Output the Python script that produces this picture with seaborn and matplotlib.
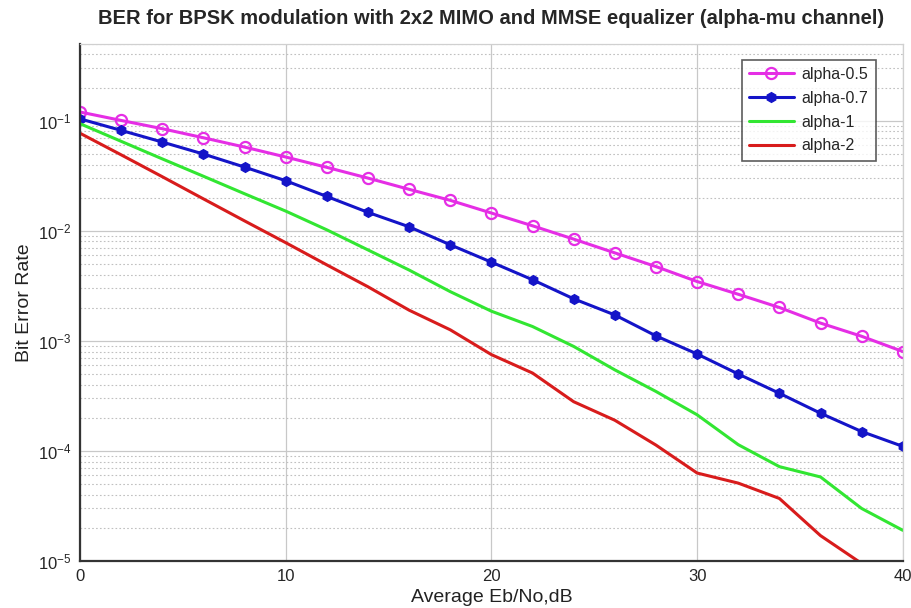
import numpy as np
import pandas as pd
import matplotlib
matplotlib.use("Agg")
import matplotlib.pyplot as plt
import seaborn as sns

# Eb/No points (dB)
snr_db = list(range(0, 42, 2))

# BER
ber_a05 = [0.120, 0.1006, 0.0846, 0.0700, 0.0576, 0.0468, 0.0377, 0.0301, 0.0238, 0.0189, 0.0145,
           0.0111, 0.0084, 0.0063, 0.00473, 0.00346, 0.00265, 0.00201, 0.00145, 0.00110, 0.00080]
ber_a07 = [0.104, 0.0817, 0.0640, 0.0498, 0.0379, 0.0285, 0.0205, 0.0147, 0.01087, 0.00746, 0.00519,
           0.00359, 0.00241, 0.00172, 0.00111, 0.00076, 0.00050, 0.000334, 0.00022, 0.00015, 0.00011]
ber_a1 = [0.094, 0.065, 0.045, 0.0313, 0.0217, 0.0151, 0.0102, 0.0067, 0.0044, 0.0028, 0.00186,
          0.00135, 0.00089, 0.000545, 0.000347, 0.000213, 0.000114, 7.2e-5, 5.8e-5, 3.0e-5, 1.9e-5]
ber_a2 = [0.077, 0.049, 0.031, 0.0195, 0.0123, 0.0078, 0.0049, 0.0031, 0.0019, 0.00126, 0.00075,
          0.00051, 0.00028, 0.00019, 0.000113, 6.3e-5, 5.1e-5, 3.7e-5, 1.7e-5, 9.5e-6, np.nan]

labels = ["alpha-0.5", "alpha-0.7", "alpha-1", "alpha-2"]
series = [ber_a05, ber_a07, ber_a1, ber_a2]
colors = ["#e52ee5", "#1414c8", "#32e632", "#d81c1c"]

sns.set_style("white")
plt.rcParams["font.family"] = ["Liberation Sans", "DejaVu Sans"]

fig, ax = plt.subplots(figsize=(9.11, 6.08), dpi=100)
fig.subplots_adjust(left=0.0878, right=0.991, top=0.928, bottom=0.0773)

styles = [
    dict(marker="o", markersize=8, markerfacecolor="none", markeredgewidth=1.6),
    dict(marker="h", markersize=7, markeredgewidth=1.0),
    dict(marker=None),
    dict(marker=None),
]
for lab, vals, col, st in zip(labels, series, colors, styles):
    df = pd.DataFrame({"snr": snr_db, "ber": vals}).dropna()
    sns.lineplot(data=df, x="snr", y="ber", ax=ax, color=col, linewidth=2.2,
                 label=lab, markeredgecolor=col, **st)

ax.set_yscale("log")
ax.set_xlim(0, 40)
ax.set_ylim(1e-5, 0.5)
ax.set_xticks([0, 10, 20, 30, 40])

ax.grid(True, which="major", color="#c8c8c8", linewidth=0.9, linestyle="-")
ax.grid(True, which="minor", axis="y", color="#c0c0c0", linewidth=0.8, linestyle=(0, (1.5, 2)))
ax.tick_params(which="major", direction="in", length=6, width=1.4, color="#333333",
               labelsize=12, pad=6, top=False, right=False)
ax.tick_params(which="minor", length=0)

for side in ["left", "bottom"]:
    ax.spines[side].set_color("#333333")
    ax.spines[side].set_linewidth(1.6)
for side in ["top", "right"]:
    ax.spines[side].set_color("#d0d0d0")
    ax.spines[side].set_linewidth(0.9)

ax.set_xlabel("Average Eb/No,dB", fontsize=14, color="#222222", labelpad=3)
ax.set_ylabel("Bit Error Rate", fontsize=14, color="#222222", labelpad=4)
ax.set_title("BER for BPSK modulation with 2x2 MIMO and MMSE equalizer (alpha-mu channel)",
             fontsize=14.5, fontweight="bold", pad=14)

leg = ax.legend(loc="upper right", bbox_to_anchor=(0.967, 0.969), borderaxespad=0,
                fontsize=11.5, frameon=True, fancybox=False, handlelength=2.8,
                borderpad=0.45, labelspacing=0.55, handletextpad=0.5)
leg.get_frame().set_edgecolor("#333333")
leg.get_frame().set_linewidth(1.2)

fig.savefig("out.png", dpi=100)
